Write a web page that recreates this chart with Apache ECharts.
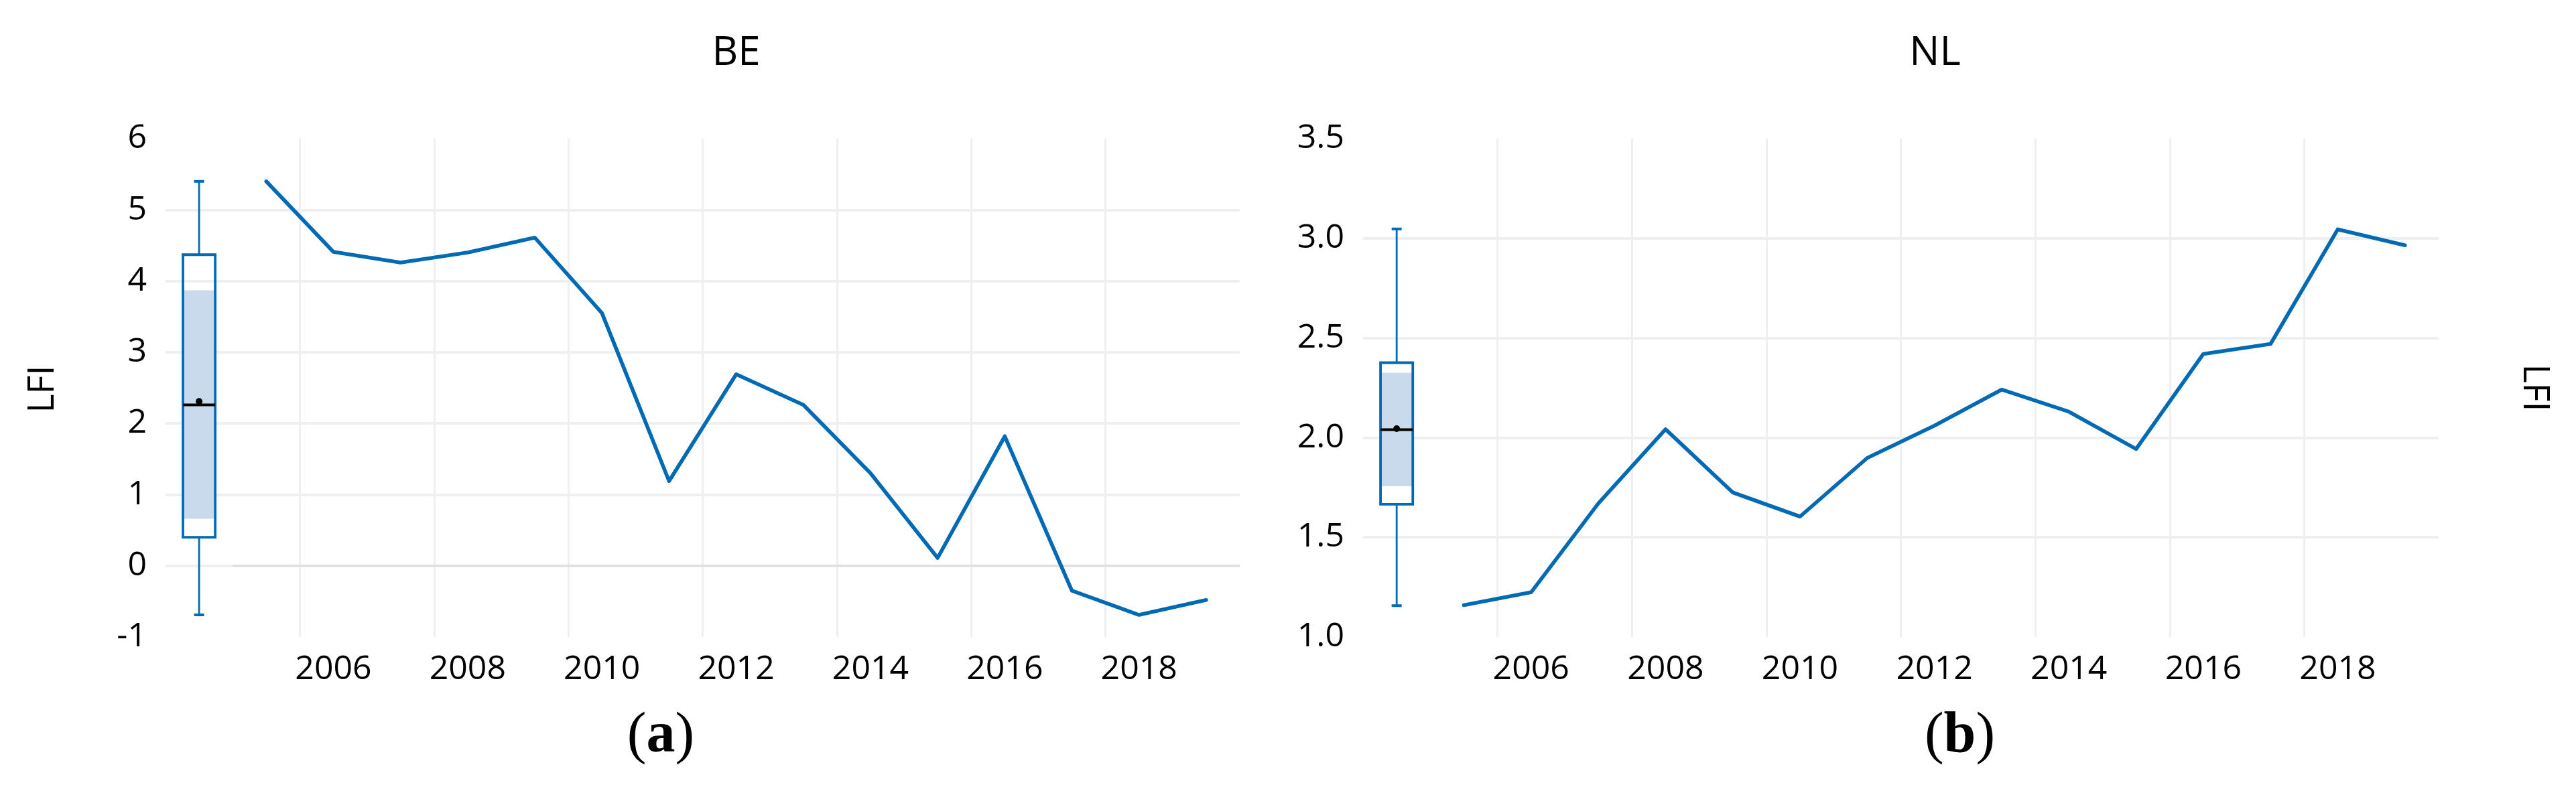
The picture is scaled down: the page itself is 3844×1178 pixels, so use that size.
<!DOCTYPE html>
<html><head><meta charset="utf-8">
<script src="https://cdn.jsdelivr.net/npm/echarts@6/dist/echarts.min.js"></script>
<style>html,body{margin:0;padding:0;background:#fff}#c{width:3844px;height:1178px}</style>
</head><body><div id="c"></div>
<script>
// ---- data ----
const years = [2005,2006,2007,2008,2009,2010,2011,2012,2013,2014,2015,2016,2017,2018,2019];
const beValues = [5.40,4.41,4.26,4.40,4.61,3.55,1.19,2.69,2.26,1.30,0.11,1.82,-0.35,-0.69,-0.48];
const nlValues = [1.16,1.224,1.67,2.042,1.725,1.604,1.898,2.06,2.241,2.13,1.943,2.42,2.47,3.045,2.965];
const xTickLabels = [2006,2008,2010,2012,2014,2016,2018];
// box summaries: [min, q1, median, q3, max]
const beBox = [-0.69, 0.40, 2.26, 4.37, 5.40];
const beMean = 2.31;
const beBand = [0.66, 3.87];
const nlBox = [1.157, 1.666, 2.04, 2.376, 3.047];
const nlMean = 2.045;
const nlBand = [1.756, 2.326];
const boxPosition = 2004;
const panelTitles = ['BE', 'NL'];
const panelLetters = ['a', 'b'];
const axisTitle = 'LFI';
const zeroLineRange = [2004.5, 2019.5];

// ---- styling ----
const BLUE = '#006AB4';
const GRID = '#efefef';
const FONT = '"Open Sans", "Noto Sans", sans-serif';

function pairs(xs, ys) { return xs.map((x, i) => [x, ys[i]]); }

function boxRender(stats, mean, band) {
  return function (params, api) {
    const x = api.value(0);
    const halfW = api.size([0.48, 0])[0] / 2;
    const cx = api.coord([x, stats[2]])[0];
    const y = v => api.coord([x, v])[1];
    const cap = 7.5;
    return {
      type: 'group',
      children: [
        {type: 'rect', shape: {x: cx - halfW, y: y(band[1]), width: halfW * 2, height: y(band[0]) - y(band[1])}, style: {fill: '#c9daec'}},
        {type: 'line', shape: {x1: cx, y1: y(stats[4]), x2: cx, y2: y(stats[3])}, style: {stroke: BLUE, lineWidth: 2.8}},
        {type: 'line', shape: {x1: cx, y1: y(stats[1]), x2: cx, y2: y(stats[0])}, style: {stroke: BLUE, lineWidth: 2.8}},
        {type: 'line', shape: {x1: cx - cap, y1: y(stats[4]), x2: cx + cap, y2: y(stats[4])}, style: {stroke: BLUE, lineWidth: 4}},
        {type: 'line', shape: {x1: cx - cap, y1: y(stats[0]), x2: cx + cap, y2: y(stats[0])}, style: {stroke: BLUE, lineWidth: 4}},
        {type: 'rect', shape: {x: cx - halfW, y: y(stats[3]), width: halfW * 2, height: y(stats[1]) - y(stats[3])}, style: {fill: 'none', stroke: BLUE, lineWidth: 3.8}},
        {type: 'line', shape: {x1: cx - halfW, y1: y(stats[2]), x2: cx + halfW, y2: y(stats[2])}, style: {stroke: '#000', lineWidth: 4}},
        {type: 'circle', shape: {cx: cx, cy: y(mean), r: 5}, style: {fill: '#000'}}
      ]
    };
  };
}

function xAxisDef(gridIndex) {
  return {
    type: 'value', gridIndex, min: 2003.5, max: 2019.5, interval: 2,
    axisLine: {show: false}, axisTick: {show: false},
    splitLine: {show: true, showMinLine: false, showMaxLine: false, lineStyle: {color: GRID, width: 3}},
    axisLabel: {show: true, customValues: xTickLabels, margin: 24, fontSize: 50, color: '#000', fontFamily: FONT,
      formatter: v => String(v)}
  };
}
function yAxisDef(gridIndex, min, max, interval, fmt) {
  return {
    type: 'value', gridIndex, min, max, interval,
    axisLine: {show: false}, axisTick: {show: false},
    splitLine: {show: true, showMinLine: false, showMaxLine: false, lineStyle: {color: GRID, width: 4}},
    axisLabel: {margin: 28, fontSize: 50, color: '#000', fontFamily: FONT, formatter: fmt}
  };
}

const serif = '"Liberation Serif", "DejaVu Serif", serif';
function letterLabel(x, letter) {
  return {type: 'text', x: x, y: 1100, style: {text: '{p|(}{b|' + letter + '}{p|)}', textAlign: 'center', textVerticalAlign: 'middle',
    rich: {p: {fontSize: 86, fontWeight: 'normal', fontFamily: serif, fill: '#000'},
           b: {fontSize: 86, fontWeight: 'bold', fontFamily: serif, fill: '#000'}}}};
}

const chart = echarts.init(document.getElementById('c'), null, {renderer: 'canvas'});
chart.setOption({
  animation: false,
  backgroundColor: '#fff',
  grid: [
    {left: 247, top: 207, width: 1603, height: 744},
    {left: 2034, top: 207, width: 1605, height: 744}
  ],
  xAxis: [xAxisDef(0), xAxisDef(1)],
  yAxis: [
    yAxisDef(0, -1, 6, 1, v => String(v)),
    yAxisDef(1, 1.0, 3.5, 0.5, v => v.toFixed(1))
  ],
  series: [
    {type: 'line', xAxisIndex: 0, yAxisIndex: 0, z: 1, silent: true, showSymbol: false,
      data: zeroLineRange.map(x => [x, 0]), lineStyle: {color: '#dedede', width: 3}},
    {type: 'line', name: 'BE', xAxisIndex: 0, yAxisIndex: 0, z: 3, showSymbol: false,
      data: pairs(years, beValues), lineStyle: {color: BLUE, width: 5.6, join: 'round', cap: 'round'}, itemStyle: {color: BLUE}},
    {type: 'line', name: 'NL', xAxisIndex: 1, yAxisIndex: 1, z: 3, showSymbol: false,
      data: pairs(years, nlValues), lineStyle: {color: BLUE, width: 5.6, join: 'round', cap: 'round'}, itemStyle: {color: BLUE}},
    {type: 'custom', xAxisIndex: 0, yAxisIndex: 0, z: 4, clip: false,
      data: [[boxPosition, beBox[2]]], renderItem: boxRender(beBox, beMean, beBand)},
    {type: 'custom', xAxisIndex: 1, yAxisIndex: 1, z: 4, clip: false,
      data: [[boxPosition, nlBox[2]]], renderItem: boxRender(nlBox, nlMean, nlBand)}
  ],
  graphic: [
    {type: 'text', x: 1098.5, y: 80, style: {text: panelTitles[0], fontSize: 60, fontFamily: FONT, fill: '#000', textAlign: 'center', textVerticalAlign: 'middle'}},
    {type: 'text', x: 2887.5, y: 80, style: {text: panelTitles[1], fontSize: 60, fontFamily: FONT, fill: '#000', textAlign: 'center', textVerticalAlign: 'middle'}},
    {type: 'text', x: 64.5, y: 581, rotation: Math.PI / 2, style: {text: axisTitle, fontSize: 54, fontFamily: FONT, fill: '#000', textAlign: 'center', textVerticalAlign: 'middle'}},
    {type: 'text', x: 3781, y: 579, rotation: -Math.PI / 2, style: {text: axisTitle, fontSize: 54, fontFamily: FONT, fill: '#000', textAlign: 'center', textVerticalAlign: 'middle'}},
    letterLabel(986, panelLetters[0]),
    letterLabel(2924.5, panelLetters[1])
  ]
});
</script>
</body></html>
